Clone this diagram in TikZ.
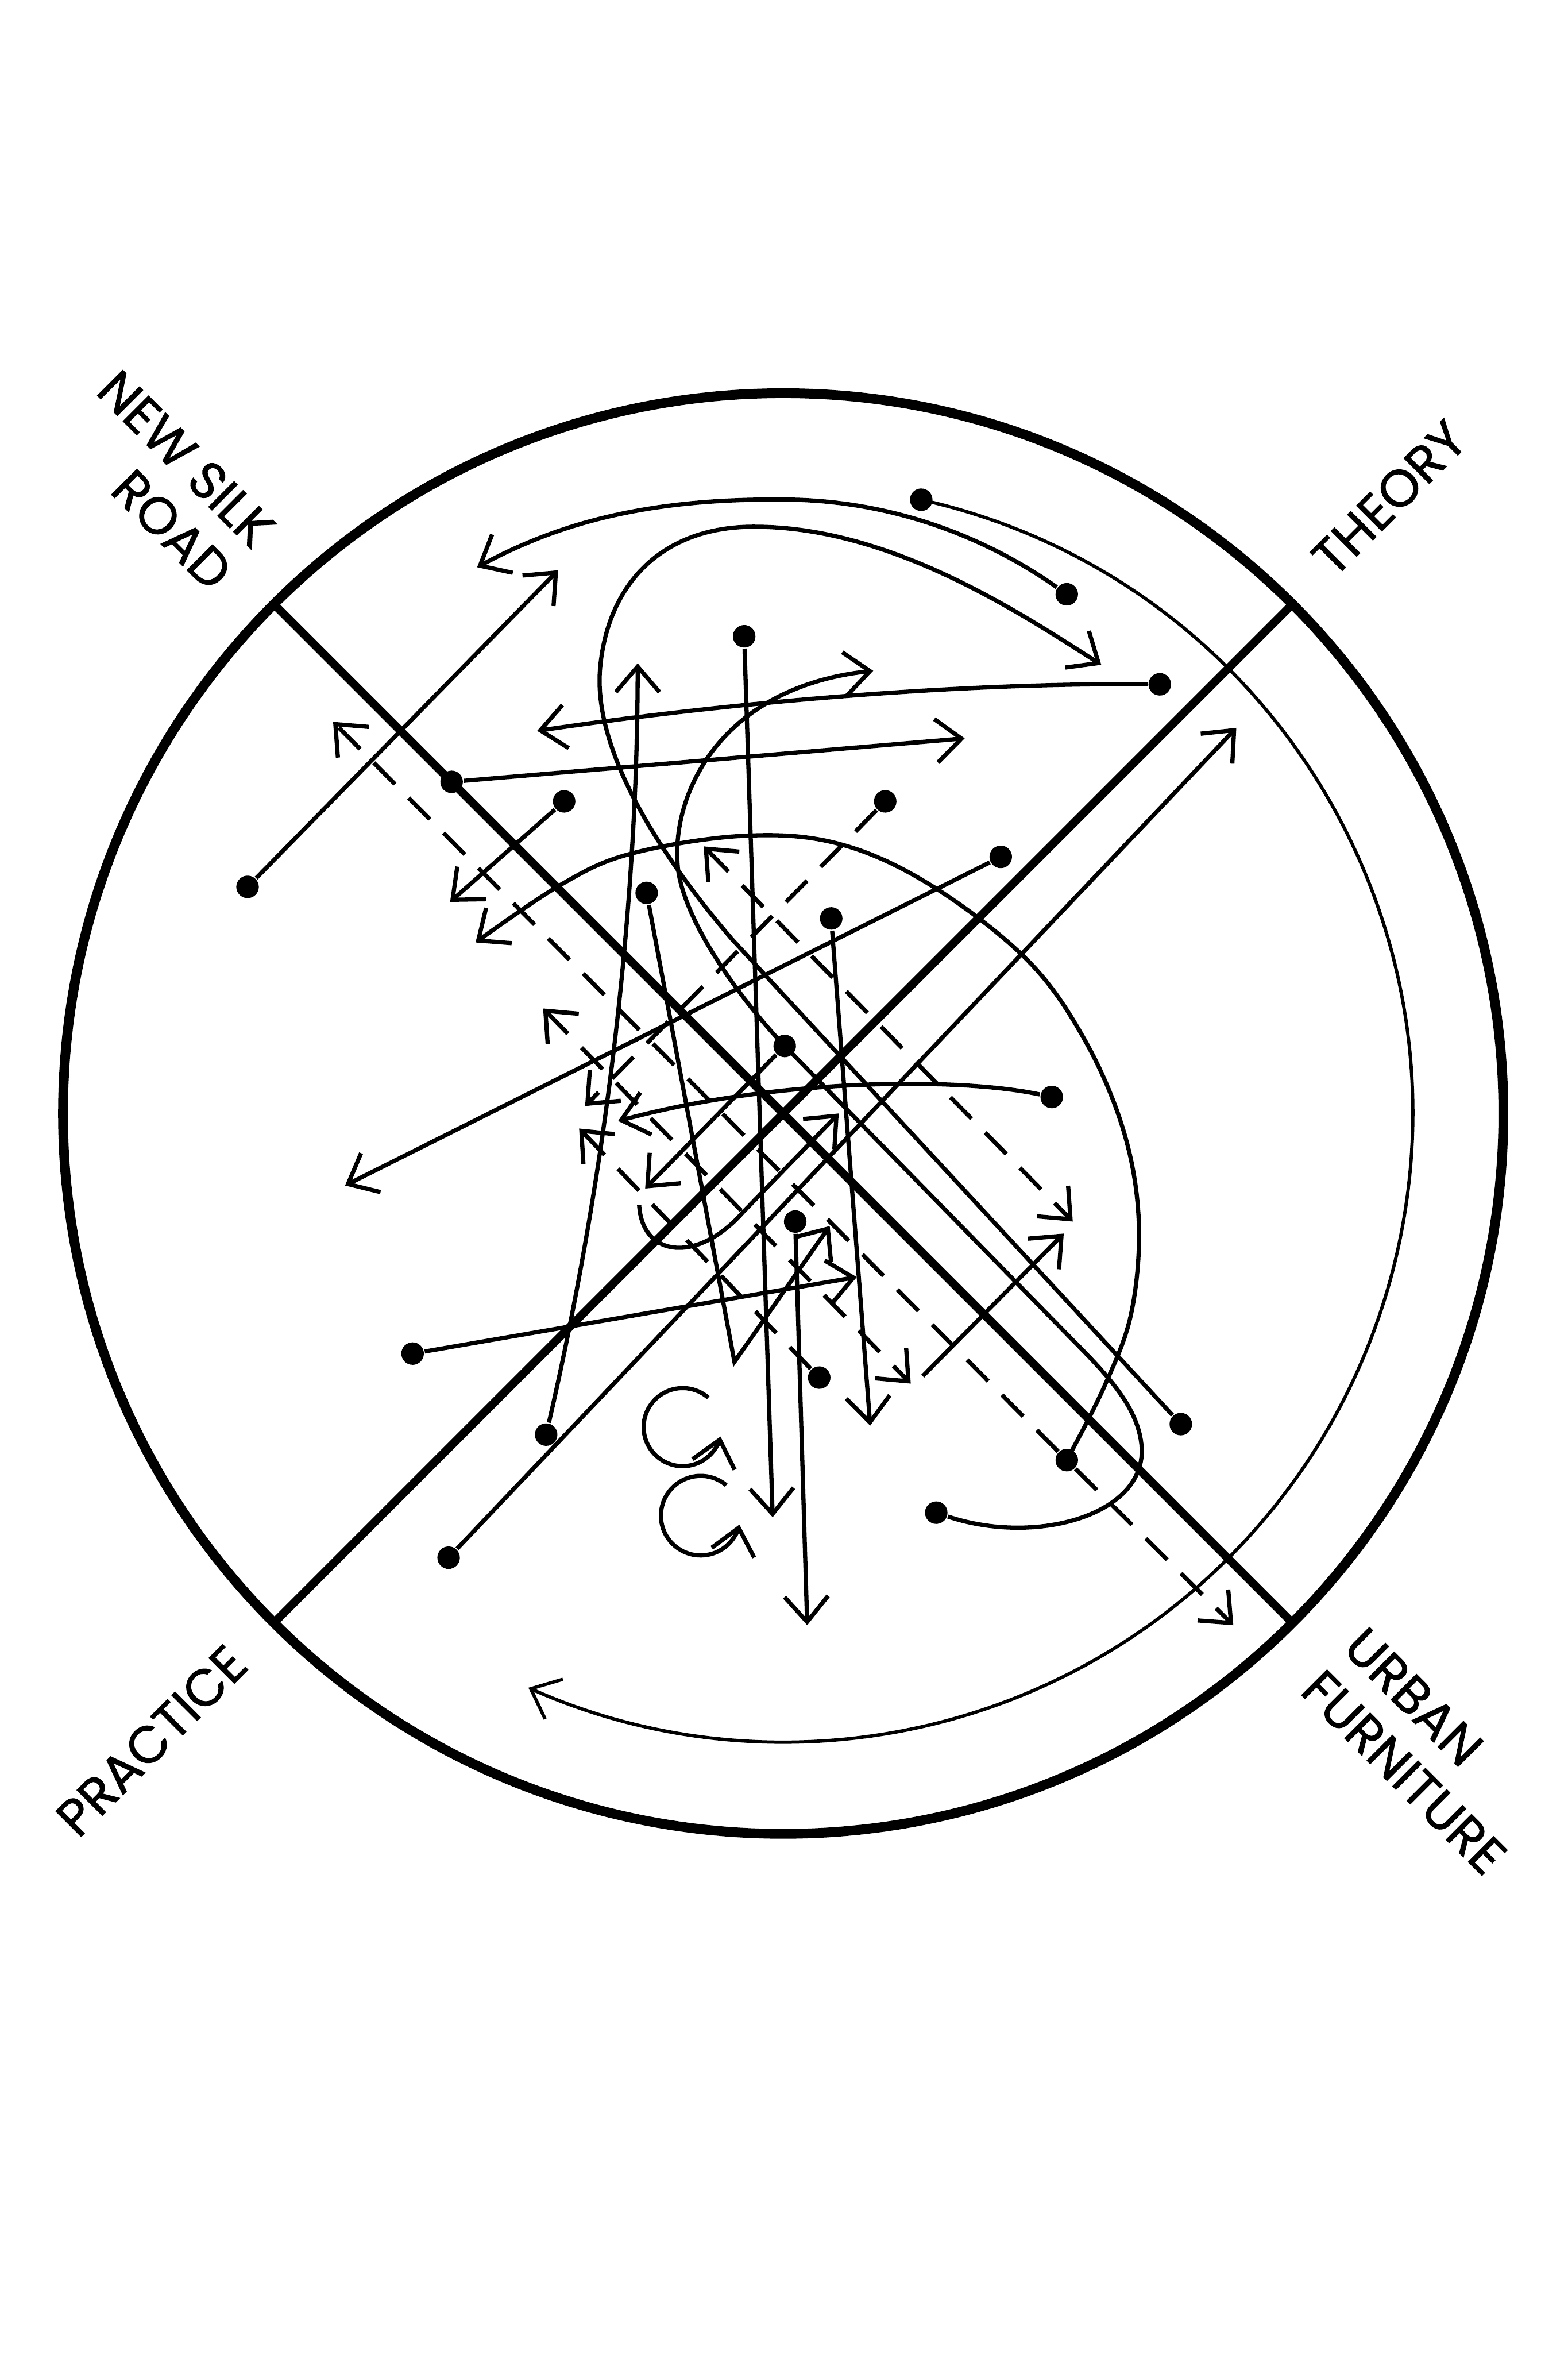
\documentclass[tikz,border=0pt]{standalone}
\usepackage{fontspec}
\newfontfamily\sectorfont{Poppins}[FakeBold=1.2]
\usetikzlibrary{arrows.meta}

\begin{document}
\begin{tikzpicture}[
    x=0.1mm, y=-0.1mm,
    >={Straight Barb[length=1.7mm,width=2.9mm]},
    rim/.style={line width=0.65mm},
    divider/.style={line width=0.55mm},
    ring/.style={line width=0.22mm},
    link/.style={line width=0.28mm},
    dlink/.style={link,dash pattern=on 2mm off 1.3mm},
    blob/.style={circle,fill,inner sep=0pt,minimum size=1.5mm},
    sector/.style={font=\sectorfont\fontsize{9.8pt}{11.4pt}\selectfont,inner sep=0pt},
  ]
  \useasboundingbox (0,0) rectangle (1045,1568);

  % Frame
  \coordinate (c)  at (522,742);
  \coordinate (nw) at (182.6,402.6);
  \coordinate (se) at (861.4,1081.4);
  \coordinate (ne) at (861.4,402.6);
  \coordinate (sw) at (182.6,1081.4);
  \draw[rim] (c) circle[radius=480];
  \draw[divider] (nw) -- (se);
  \draw[divider] (ne) -- (sw);

  % Quarters
  \node[sector,rotate=-45,align=right] (silk)     at (110,320)  {NEW SILK\\ROAD};
  \node[sector,rotate=45]              (theory)   at (926,332)  {THEORY};
  \node[sector,rotate=45]              (practice) at (101,1160) {PRACTICE};
  \node[sector,rotate=-45,align=left]  (urban)    at (950,1167) {URBAN\\FURNITURE};

  % Starting points
  \foreach \n/\x/\y in {1/614/333, 2/711/396, 3/773/456, 4/496/424, 5/301/521,
                        6/376/534, 7/590/534, 8/667/571, 9/165/591, 10/431/595,
                        11/554/612, 12/523/697, 13/701/731, 14/530/814, 15/275/902,
                        16/546/918, 17/364/956, 18/787/949, 19/711/973, 20/624/1008,
                        21/299/1038}
    \node[blob] (d\n) at (\x,\y) {};

  % Tips
  \foreach \n/\x/\y in {4/318/378, 5/734/443, 8/412/747, 9/230/790, 10/372/380,
                        11/358/487, 12/643/492, 13/582/447, 15/515/1011, 16/538/1083,
                        17/580/950, 18/425/442, 19/553/817, 20/571/851, 21/824/485,
                        22/709/822, 25/300/601, 26/430/792, 29/559/742}
    \coordinate (t\n) at (\x,\y);
  \coordinate (v19)  at (489.5,907.5);
  \coordinate (s22)  at (615,917);
  \coordinate (hook) at (426,803);

  % Dashed tips
  \foreach \n/\x/\y in {1/222/481, 2/822/1083, 3/390/737, 4/362/672, 5/607/922,
                        6/469/564, 7/715/814, 8/386/752}
    \coordinate (u\n) at (\x,\y);

  % Ring
  \draw[ring,->] (d1.center) arc[start angle=-77.4, end angle=114, radius=419];

  % Curves
  \draw[link,->] (d2) .. controls (660,360) and (600,335) .. (530,333)
    .. controls (430,331) and (370,350) .. (t4);
  \draw[link,->] (d18) -- (488,626) .. controls (440,570) and (395,500) .. (400,445)
    .. controls (405,390) and (440,352) .. (500,351)
    .. controls (590,350) and (675,405) .. (t5);
  \draw[link,->] plot[smooth,tension=0.6] coordinates {(d19.center) (736,924) (754,875)
    (759,814) (749,754) (723,693) (684,639) (619,589) (558,562) (495,557) (420,569)
    (373,590) (317,628)};
  \draw[link,->] (d20) .. controls (690,1030) and (762,1010) .. (761,966)
    .. controls (760,940) and (740,918) .. (715,893) -- (d12.center)
    .. controls (500,673) and (458,620) .. (452,580)
    .. controls (446,530) and (480,458) .. (t13);
  \draw[link,->] (d13) .. controls (640,718) and (520,718) .. (t8);
  \draw[link,->] (d3) .. controls (650,455) and (500,466) .. (t11);
  \draw[link,->] (d17) .. controls (400,800) and (425,620) .. (t18);
  \draw[link,->] (hook) .. controls (428,838) and (465,842) .. (495,808) -- (t29);

  % Straight arrows
  \draw[link,->] (d9)  -- (t10);
  \draw[link,->] (d5)  -- (t12);
  \draw[link,->] (d8)  -- (t9);
  \draw[link,->] (d6)  -- (t25);
  \draw[link,->] (d4)  -- (t15);
  \draw[link,->] (d14) -- (t16);
  \draw[link,->] (d11) -- (t17);
  \draw[link,->] (d12) -- (t26);
  \draw[link,->] (d10) -- (v19) -- (t19);
  \draw[link,->] (d15) -- (t20);
  \draw[link,->] (d21) -- (t21);
  \draw[link,->] (s22) -- (t22);

  % Dashed arrows
  \draw[dlink,->] (d19) -- (u1);
  \draw[dlink,->] (d19) -- (u2);
  \draw[dlink,->] (d7)  -- (u3);
  \draw[dlink,<->] (u4) -- (u5);
  \draw[dlink,<->] (u6) -- (u7);
  \draw[dlink,->] (d16) -- (u8);

  % Turns
  \coordinate (loop1) at (455,951);
  \coordinate (loop2) at (467,1010);
  \draw[link,->] (loop1) ++(-49:26) arc[start angle=-49, end angle=-346, radius=26];
  \draw[link,->] (loop2) ++(-50:26.5) arc[start angle=-50, end angle=-347, radius=26.5];

\end{tikzpicture}
\end{document}
